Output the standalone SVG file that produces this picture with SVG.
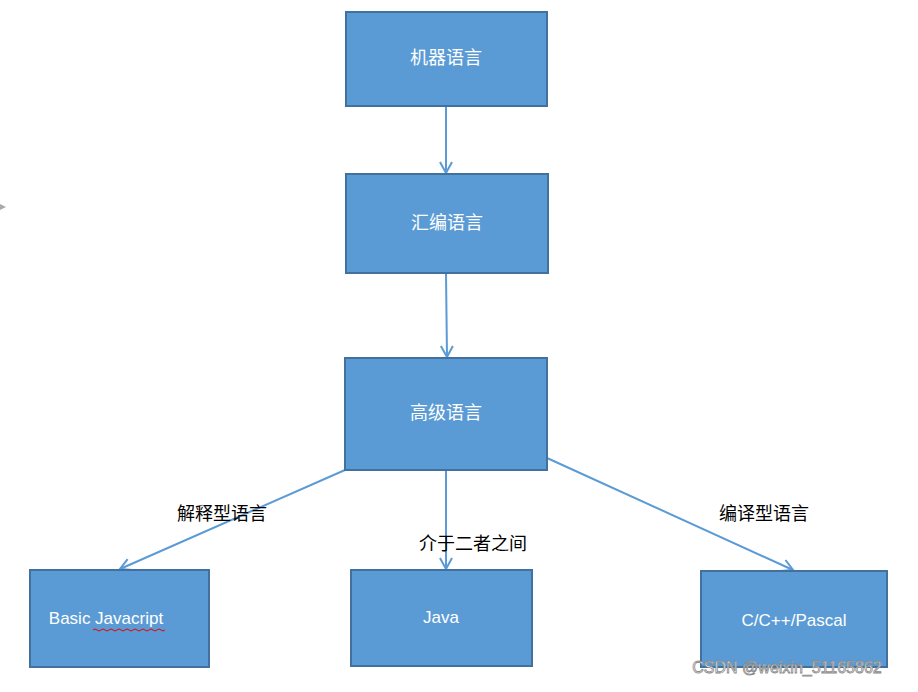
<svg xmlns="http://www.w3.org/2000/svg" width="918" height="692" viewBox="0 0 918 692">
<style>
.box{fill:#5B9BD5;stroke:#41719C;stroke-width:2}
.t{font-family:"Noto Sans CJK SC","Liberation Sans",sans-serif;font-size:18px;fill:#fff;text-anchor:middle;dominant-baseline:middle}
.e{font-family:"Liberation Sans","Noto Sans CJK SC",sans-serif;font-size:17px;fill:#fff;text-anchor:middle;dominant-baseline:middle}
.l{font-family:"Noto Sans CJK SC",serif;font-size:18px;fill:#000;text-anchor:middle;dominant-baseline:middle}
.c{stroke:#5B9BD5;stroke-width:2;fill:none;marker-end:url(#a)}
</style>
<defs><marker id="a" markerWidth="14" markerHeight="14" refX="12" refY="7" orient="auto" markerUnits="userSpaceOnUse"><path d="M1,1 L12,7 L1,13" fill="none" stroke="#5B9BD5" stroke-width="2"/></marker></defs>
<rect width="918" height="692" fill="#fff"/>
<g id="connectors">
<line class="c" x1="446" y1="106" x2="446" y2="173"/>
<line class="c" x1="446" y1="273" x2="447" y2="357"/>
<line class="c" x1="345" y1="470" x2="120" y2="569"/>
<line class="c" x1="446" y1="470" x2="446" y2="569"/>
<line class="c" x1="547" y1="458" x2="793" y2="570"/>
</g>
<g id="n1"><rect class="box" x="346" y="12" width="201" height="94"/><text class="t" x="446" y="59">机器语言</text></g>
<g id="n2"><rect class="box" x="346" y="174" width="202" height="99"/><text class="t" x="447" y="224">汇编语言</text></g>
<g id="n3"><rect class="box" x="345" y="358" width="202" height="112"/><text class="t" x="446" y="414">高级语言</text></g>
<g id="n4"><rect class="box" x="30" y="570" width="179" height="97"/><text class="e" x="106" y="620">Basic Javacript</text><path d="M93,630 q2,-2 4,0 t4,0 t4,0 t4,0 t4,0 t4,0 t4,0 t4,0 t4,0 t4,0 t4,0 t4,0 t4,0 t4,0 t4,0 t4,0 t4,0 t4,0" fill="none" stroke="#e00" stroke-width="1"/></g>
<g id="n5"><rect class="box" x="351" y="570" width="181" height="96"/><text class="e" x="441" y="619">Java</text></g>
<g id="n6"><rect class="box" x="701" y="571" width="186" height="96"/><text class="e" x="794" y="622">C/C++/Pascal</text></g>
<g id="labels">
<text class="l" x="222" y="515">解释型语言</text>
<text class="l" x="473" y="545">介于二者之间</text>
<text class="l" x="764" y="515">编译型语言</text>
</g>
<text x="787" y="673" font-family="Liberation Sans,sans-serif" font-size="16" fill="#fff" stroke="#888" stroke-width="0.8" text-anchor="middle">CSDN @weixin_51165862</text>
<path d="M0,204 L6,207 L0,210Z" fill="#aaa"/>
</svg>
